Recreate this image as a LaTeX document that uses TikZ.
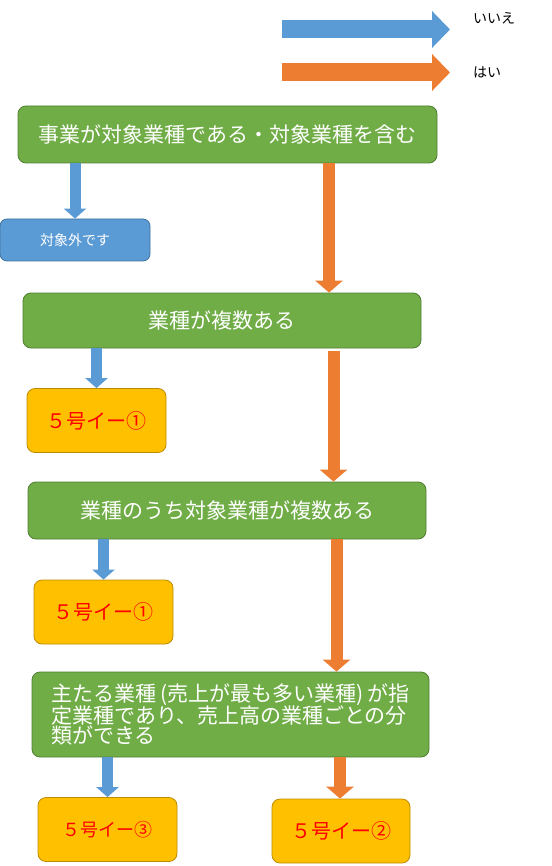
\documentclass[tikz,border=0pt]{standalone}
\usepackage{fontspec}
\setmainfont{Noto Sans CJK JP}
\usetikzlibrary{arrows.meta,calc}
\definecolor{greenbox}{HTML}{70AD47}
\definecolor{greenline}{HTML}{507E32}
\definecolor{bluebox}{HTML}{5B9BD5}
\definecolor{blueline}{HTML}{41719C}
\definecolor{orangefill}{HTML}{ED7D31}
\definecolor{yellowbox}{HTML}{FFC000}
\definecolor{yellowline}{HTML}{BC8C00}

\begin{document}
\begin{tikzpicture}[x=1pt, y=-1pt, every node/.style={font=\fontsize{21pt}{20pt}\selectfont, inner sep=0pt},
	q/.style={draw=greenline, fill=greenbox, rounded corners=8pt, text=white, line width=0.8pt},
	ans/.style={draw=yellowline, fill=yellowbox, rounded corners=8pt, text=red, line width=0.8pt, minimum width=139pt, minimum height=64pt, font=\fontsize{20pt}{24pt}\selectfont},
	noarrow/.style={bluebox, line width=11pt, -{Triangle[width=22pt,length=10pt]}},
	yesarrow/.style={orangefill, line width=12pt, -{Triangle[width=27pt,length=12pt]}},
	legarrow/.style={line width=18pt, -{Triangle[width=36pt,length=18pt]}}]
	\useasboundingbox (0,0) rectangle (551,866);
	\coordinate (legno) at (282,29.5);
	\coordinate (legyes) at (282,72.5);
	\node[font=\fontsize{14pt}{16pt}\selectfont] (noText) at (494,18) {いいえ};
	\node[font=\fontsize{14pt}{16pt}\selectfont] (yesText) at (487,72) {はい};
	\draw[legarrow, bluebox] (legno) -- (legno -| 450,0);
	\draw[legarrow, orangefill] (legyes) -- (legyes -| 450,0);
	\node[q, minimum width=419pt, minimum height=57pt] (q1) at (227.5,134.5) {事業が対象業種である・対象業種を含む};
	\node[draw=blueline, fill=bluebox, rounded corners=7pt, text=white, line width=0.8pt, minimum width=150pt, minimum height=42pt, font=\fontsize{14pt}{16pt}\selectfont] (out) at (75,240) {対象外です};
	\node[q, minimum width=398pt, minimum height=55pt] (q2) at (222,320.5) {業種が複数ある};
	\node[ans] (yes1a) at (96.5,420.5) {５号イー①};
	\node[q, minimum width=398pt, minimum height=57pt] (q3) at (227,510.5) {業種のうち対象業種が複数ある};
	\node[ans] (yes1b) at (103.5,612) {５号イー①};
	\node[q, minimum width=397pt, minimum height=85pt, align=left] (q4) at (230.5,714.5) {主たる業種\hspace{0.2em}(売上が最も多い業種)\hspace{0.2em}が指\\定業種であり、売上高の業種ごとの分\\類ができる};
	\node[ans, font=\fontsize{18pt}{22pt}\selectfont] (yes3) at (107.5,829.5) {５号イー③};
	\node[ans, minimum width=138pt] (yes2) at (341,831) {５号イー②};
	\draw[noarrow] (q1.south -| out.north) -- (out.north);
	\draw[noarrow] (q2.south -| yes1a.north) -- (yes1a.north);
	\draw[noarrow] (q3.south -| yes1b.north) -- (yes1b.north);
	\draw[noarrow] (q4.south -| yes3.north) -- (yes3.north);
	\draw[yesarrow] ($(q1.south -| yes2.north)+(-12,0)$) -- ($(q2.north -| yes2.north)+(-12,0)$);
	\draw[yesarrow] ($(q2.south -| yes2.north)+(-7.5,3)$) -- ($(q3.north -| yes2.north)+(-7.5,0)$);
	\draw[yesarrow] ($(q3.south -| yes2.north)+(-4.5,0)$) -- ($(q4.north -| yes2.north)+(-4.5,0)$);
	\draw[yesarrow] ($(q4.south -| yes2.north)+(-1,0)$) -- ($(yes2.north)+(-1,0)$);
\end{tikzpicture}
\end{document}
